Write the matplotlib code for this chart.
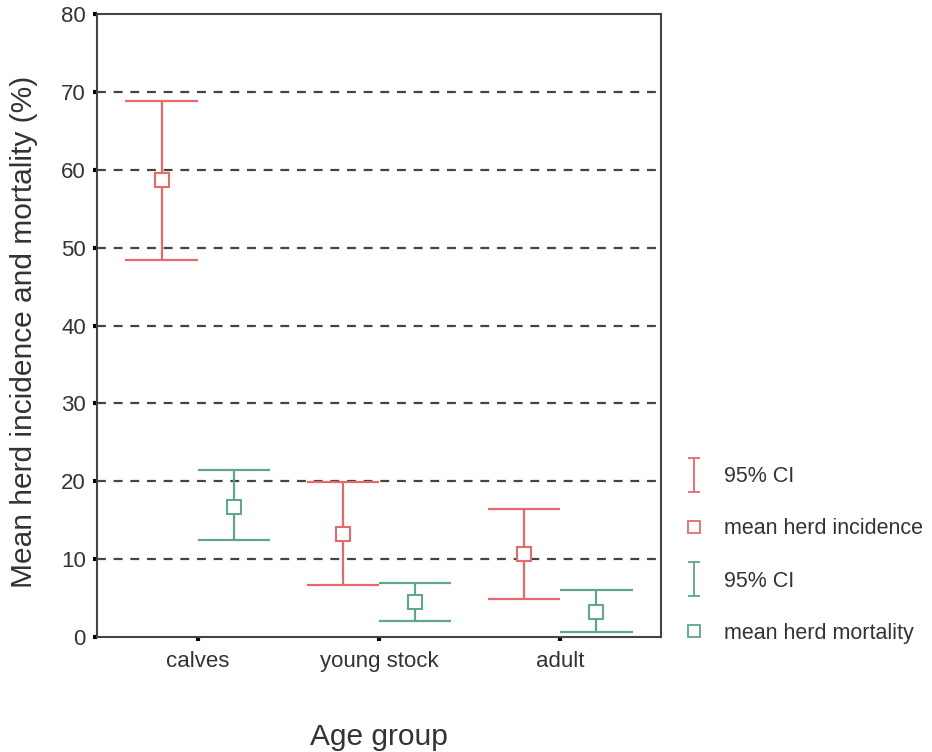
import matplotlib
matplotlib.use("Agg")
import matplotlib.pyplot as plt
import numpy as np
from matplotlib.lines import Line2D
from matplotlib.path import Path

# values
age_groups = ["calves", "young stock", "adult"]

incidence_mean = [58.7, 13.2, 10.6]
incidence_low = [48.4, 6.7, 4.9]
incidence_high = [68.8, 19.9, 16.5]

mortality_mean = [16.7, 4.5, 3.2]
mortality_low = [12.4, 2.0, 0.6]
mortality_high = [21.4, 7.0, 6.0]

y_ticks = [0, 10, 20, 30, 40, 50, 60, 70, 80]

RED = "#e46a6c"
GREEN = "#5fa68b"
OFFSET = 0.2
CAP = 0.2

plt.rcParams["font.family"] = ["Liberation Sans", "DejaVu Sans"]

fig = plt.figure(figsize=(9.32, 7.52), dpi=100)
ax = fig.add_axes([0.1041, 0.1529, 0.6051, 0.8285])

x = np.arange(1, len(age_groups) + 1)


def draw_ci(xpos, mean, low, high, color):
    ax.vlines(xpos, low, high, color=color, lw=1.6, zorder=3)
    ax.hlines(low, xpos - CAP, xpos + CAP, color=color, lw=1.6, zorder=3)
    ax.hlines(high, xpos - CAP, xpos + CAP, color=color, lw=1.6, zorder=3)
    ax.plot(xpos, mean, ls="none", marker="s", ms=10, mfc="white",
            mec=color, mew=1.5, zorder=4)


draw_ci(x - OFFSET, incidence_mean, incidence_low, incidence_high, RED)
draw_ci(x + OFFSET, mortality_mean, mortality_low, mortality_high, GREEN)

for v in y_ticks[1:-1]:
    ax.axhline(v, color="#444444", lw=1.6, ls=(0, (4, 3.5)), zorder=1)

ax.set_xlim(0.444, 3.556)
ax.set_ylim(0, 80)
ax.set_yticks(y_ticks)
ax.set_xticks(x)
ax.set_xticklabels(age_groups)
ax.tick_params(axis="both", length=3, width=3, color="black",
               labelsize=16, labelcolor="#333333", direction="out")
ax.tick_params(axis="x", pad=7)
ax.tick_params(axis="y", pad=5)
for s in ax.spines.values():
    s.set_color("#444444")
    s.set_linewidth(1.5)

ax.set_ylabel("Mean herd incidence and mortality (%)", fontsize=21.5, color="#333333")
ax.set_xlabel("Age group", fontsize=21.5, color="#333333")
ax.yaxis.set_label_coords(-0.104, 0.49)
ax.xaxis.set_label_coords(0.5, -0.138)

# I-beam marker for the CI legend entries
ibeam = Path([(-0.35, -1), (0.35, -1), (0, -1), (0, 1), (-0.35, 1), (0.35, 1)],
             [Path.MOVETO, Path.LINETO, Path.MOVETO, Path.LINETO, Path.MOVETO, Path.LINETO])
handles = [
    Line2D([], [], ls="none", marker=ibeam, ms=24, mec=RED, mew=1.3),
    Line2D([], [], ls="none", marker="s", ms=9, mfc="white", mec=RED, mew=1.3),
    Line2D([], [], ls="none", marker=ibeam, ms=24, mec=GREEN, mew=1.3),
    Line2D([], [], ls="none", marker="s", ms=9, mfc="white", mec=GREEN, mew=1.3),
]
labels = ["95% CI", "mean herd incidence", "95% CI", "mean herd mortality"]
fig.legend(handles, labels, loc="center left", bbox_to_anchor=(0.712, 0.262),
           frameon=False, fontsize=15.5, handlelength=1.0, handletextpad=0.9,
           labelspacing=1.45, labelcolor="#333333")

fig.savefig("out.png", dpi=100)
